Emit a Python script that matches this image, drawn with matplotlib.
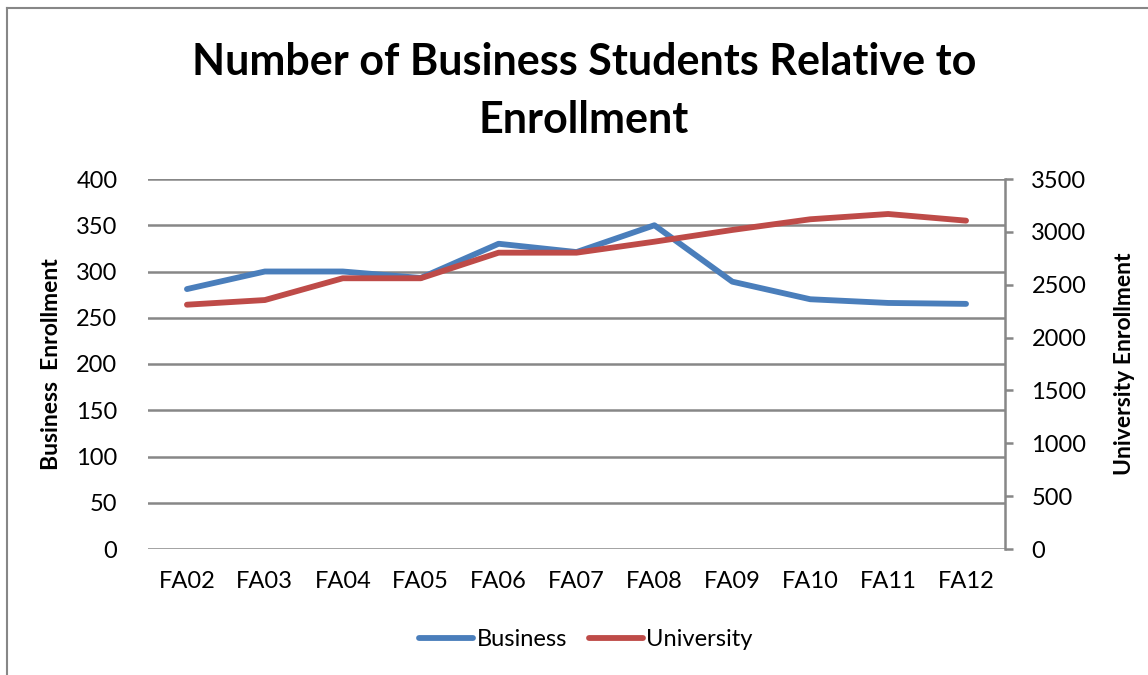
import matplotlib
matplotlib.use("Agg")
import matplotlib.pyplot as plt
from matplotlib.lines import Line2D

plt.rcParams['font.family'] = ['Lato', 'DejaVu Sans']

terms = ['FA02', 'FA03', 'FA04', 'FA05', 'FA06', 'FA07', 'FA08', 'FA09', 'FA10', 'FA11', 'FA12']
business = [281, 300, 300, 293, 330, 321, 350, 289, 270, 266, 265]
university = [2311, 2355, 2561, 2561, 2803, 2803, 2907, 3018, 3119, 3169, 3106]

left_ticks = [0, 50, 100, 150, 200, 250, 300, 350, 400]
right_ticks = [0, 500, 1000, 1500, 2000, 2500, 3000, 3500]

blue = '#4A7EBB'
red = '#BE4B48'
grid_col = '#878787'

W, H = 1148, 675
fig = plt.figure(figsize=(W / 100, H / 100), dpi=100)

# outer chart border (only left/top visible in the crop)
fig.add_artist(Line2D([7 / W, 7 / W], [0, 1 - 8 / H], color=grid_col, lw=1.5))
fig.add_artist(Line2D([7 / W, 1], [1 - 8 / H, 1 - 8 / H], color=grid_col, lw=1.5))

ax = fig.add_axes([148 / W, 1 - 549 / H, (1005 - 148) / W, (549 - 179) / H])
ax2 = ax.twinx()

x = list(range(len(terms)))
ax.plot(x, business, color=blue, lw=4.2, solid_capstyle='round', solid_joinstyle='round', zorder=3)
ax2.plot(x, university, color=red, lw=4.2, solid_capstyle='round', solid_joinstyle='round', zorder=3)

ax.set_xlim(-0.5, 10.5)
ax.set_ylim(0, 400)
ax2.set_ylim(0, 3500)
ax.set_yticks(left_ticks)
ax2.set_yticks(right_ticks)
ax.set_xticks(x)
ax.set_xticklabels(terms)

ax.grid(axis='y', color=grid_col, lw=1.8)
ax.set_axisbelow(True)

for s in ['top', 'left', 'bottom', 'right']:
    ax.spines[s].set_visible(False)
for s in ['top', 'left', 'bottom']:
    ax2.spines[s].set_visible(False)
ax2.spines['right'].set_color(grid_col)
ax2.spines['right'].set_linewidth(1.8)

ax.tick_params(axis='y', length=0, pad=22, labelsize=17)
ax.tick_params(axis='x', length=0, pad=16, labelsize=17)
ax2.tick_params(axis='y', length=6, width=1.8, color=grid_col, pad=13, labelsize=17)

ax.set_ylabel('Business  Enrollment', fontsize=16.5, fontweight='bold', labelpad=10)
ax2.set_ylabel('University Enrollment', fontsize=16.5, fontweight='bold', labelpad=20)

fig.text(584 / W, 1 - 91 / H, 'Number of Business Students Relative to\nEnrollment',
         ha='center', va='center', fontsize=31, fontweight='bold', linespacing=1.55)

handles = [Line2D([], [], color=blue, lw=4.2, solid_capstyle='round'),
           Line2D([], [], color=red, lw=4.2, solid_capstyle='round')]
fig.legend(handles, ['Business', 'University'], loc='center', bbox_to_anchor=(586 / W, 1 - 640 / H),
           ncol=2, frameon=False, fontsize=17, handlelength=2.3, handletextpad=0.15, columnspacing=0.9)

fig.savefig('out.png', dpi=100)
